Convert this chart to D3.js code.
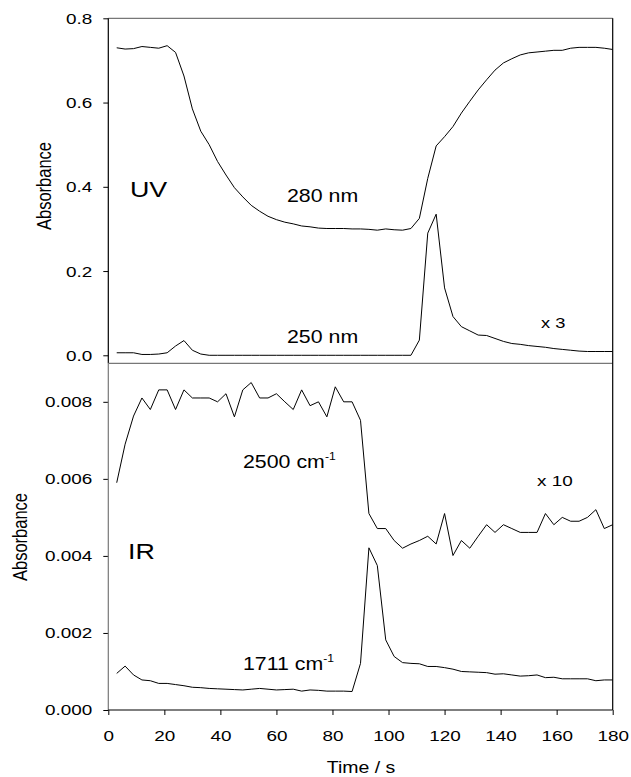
<!DOCTYPE html>
<html>
<head>
<meta charset="utf-8">
<script src="https://cdn.jsdelivr.net/npm/d3@7"></script>
<style>
  body { margin: 0; background: #fff; }
  text { font-family: Arial, "Liberation Sans", sans-serif; fill: #000; }
</style>
</head>
<body>
<svg id="chart"></svg>
<script>
// time axis (s), sampled every 3 s
var times = d3.range(3, 181, 3);

var uv280 = [0.730,0.727,0.728,0.733,0.731,0.729,0.735,0.719,0.663,0.585,
  0.532,0.500,0.460,0.428,0.398,0.376,0.356,0.342,0.330,0.322,
  0.316,0.312,0.307,0.305,0.302,0.301,0.301,0.301,0.300,0.300,
  0.299,0.297,0.300,0.298,0.297,0.301,0.325,0.420,0.497,0.519,
  0.543,0.575,0.603,0.630,0.654,0.677,0.694,0.704,0.713,0.718,
  0.720,0.722,0.724,0.724,0.729,0.731,0.731,0.731,0.729,0.726];

var uv250 = [0.006,0.006,0.006,0.002,0.002,0.003,0.006,0.022,0.035,0.012,
  0.003,0,0,0,0,0,0,0,0,0,
  0,0,0,0,0,0,0,0,0,0,
  0,0,0,0,0,0,0.036,0.290,0.335,0.160,
  0.092,0.068,0.058,0.048,0.047,0.040,0.033,0.028,0.026,0.023,
  0.021,0.019,0.016,0.014,0.012,0.010,0.009,0.009,0.009,0.009];

var ir2500 = [0.00590,0.00690,0.00763,0.00810,0.00780,0.00831,0.00831,0.00780,0.00831,0.00810,
  0.00810,0.00810,0.00800,0.00821,0.00761,0.00831,0.00850,0.00810,0.00810,0.00821,
  0.00800,0.00780,0.00831,0.00790,0.00800,0.00761,0.00839,0.00800,0.00800,0.00752,
  0.00510,0.00471,0.00471,0.00440,0.00420,0.00431,0.00440,0.00451,0.00431,0.00510,
  0.00401,0.00440,0.00420,0.00451,0.00481,0.00461,0.00481,0.00471,0.00461,0.00461,
  0.00461,0.00510,0.00481,0.00500,0.00490,0.00490,0.00500,0.00520,0.00471,0.00481];

var ir1711 = [0.00095,0.00114,0.00091,0.00078,0.00076,0.00069,0.00069,0.00066,0.00063,0.00059,
  0.00058,0.00056,0.00055,0.00054,0.00053,0.00052,0.00054,0.00056,0.00054,0.00052,
  0.00053,0.00054,0.00049,0.00052,0.00051,0.00049,0.00049,0.00049,0.00048,0.00121,
  0.00421,0.00375,0.00182,0.00139,0.00123,0.00121,0.00120,0.00113,0.00113,0.00110,
  0.00106,0.00100,0.00099,0.00098,0.00097,0.00093,0.00094,0.00091,0.00088,0.00089,
  0.00091,0.00084,0.00085,0.00081,0.00081,0.00081,0.00081,0.00076,0.00078,0.00078];

var xTicks = [0,20,40,60,80,100,120,140,160,180];
var uvTicks = [0.0,0.2,0.4,0.6,0.8];
var irTicks = [0.000,0.002,0.004,0.006,0.008];

var svgWidth = 631, svgHeight = 777;
var left = 108.3, right = 612.7;
var topY = 18.3, midY = 363.3, botY = 710;
var sx = 1.22; // the original text is a bit wide

var svg = d3.select("#chart")
    .attr("width", svgWidth)
    .attr("height", svgHeight);

var x = d3.scaleLinear().domain([0, 180]).range([left, right]);
var yUV = d3.scaleLinear().domain([-0.019, 0.8]).range([midY, topY]);
var yIR = d3.scaleLinear().domain([0, 0.009]).range([botY, midY]);

// axes
var gUV = svg.append("g").attr("transform", "translate(" + left + ",0)")
    .call(d3.axisLeft(yUV).tickValues(uvTicks).tickFormat(d3.format(".1f")).tickSize(5));
var gIR = svg.append("g").attr("transform", "translate(" + left + ",0)")
    .call(d3.axisLeft(yIR).tickValues(irTicks).tickFormat(d3.format(".3f")).tickSize(5));
var gX = svg.append("g").attr("transform", "translate(0," + botY + ")")
    .call(d3.axisBottom(x).tickValues(xTicks).tickSize(5));

[gUV, gIR, gX].forEach(function(g) {
  g.select(".domain").remove();
  g.selectAll(".tick line").attr("stroke", "#000");
  g.selectAll("text")
    .style("font-size", "15.5px")
    .style("font-family", "Arial, 'Liberation Sans', sans-serif")
    .attr("transform", "scale(" + sx + ",1)");
});
gUV.selectAll("text").attr("x", -16 / sx);
gIR.selectAll("text").attr("x", -16 / sx);
gX.selectAll("text").attr("y", 31.5).attr("dy", "0");

// frame lines
function seg(x1, y1, x2, y2, col) {
  svg.append("line").attr("x1", x1).attr("y1", y1).attr("x2", x2).attr("y2", y2)
    .attr("stroke", col).attr("stroke-width", 1.2);
}
seg(left, topY, right, topY, "#777");
seg(left, topY, left, midY, "#000");
seg(left, midY, left, botY, "#777");
seg(left, midY, right, midY, "#777");
seg(left, botY, right, botY, "#000");
seg(right, topY, right, botY, "#000");

// curves
function drawLine(vals, yScale) {
  var line = d3.line()
    .x(function(d, i) { return x(times[i]); })
    .y(function(d) { return yScale(d); });
  svg.append("path").datum(vals)
    .attr("d", line)
    .attr("fill", "none")
    .attr("stroke", "#000")
    .attr("stroke-width", 1);
}
drawLine(uv280, yUV);
drawLine(uv250, yUV);
drawLine(ir2500, yIR);
drawLine(ir1711, yIR);

// labels
function label(t, px, py, size) {
  return svg.append("g").attr("transform", "translate(" + px + "," + py + ")scale(" + sx + ",1)")
    .append("text").text(t).style("font-size", size + "px");
}
label("UV", 130, 197, 22);
label("IR", 128, 559, 22);
label("280 nm", 287, 202, 17.5);
label("250 nm", 287, 343, 17.5);
label("x 3", 541, 328, 15);
label("x 10", 537, 486, 15.5);

function wn(t, px, py) {
  var tx = label(t + " cm", px, py, 17.5);
  tx.append("tspan").text("-1").attr("dy", -8).style("font-size", "10px");
}
wn("2500", 243, 468);
wn("1711", 243, 670);

svg.append("text").text("Absorbance")
  .attr("text-anchor", "middle")
  .attr("transform", "translate(50.5,186)scale(" + sx + ",1)rotate(-90)")
  .style("font-size", "16.5px");
svg.append("text").text("Absorbance")
  .attr("text-anchor", "middle")
  .attr("transform", "translate(27,537)scale(" + sx + ",1)rotate(-90)")
  .style("font-size", "16.5px");

svg.append("g").attr("transform", "translate(361,773)scale(" + sx + ",1)")
  .append("text").text("Time / s")
  .attr("text-anchor", "middle")
  .style("font-size", "16px");
</script>
</body>
</html>
